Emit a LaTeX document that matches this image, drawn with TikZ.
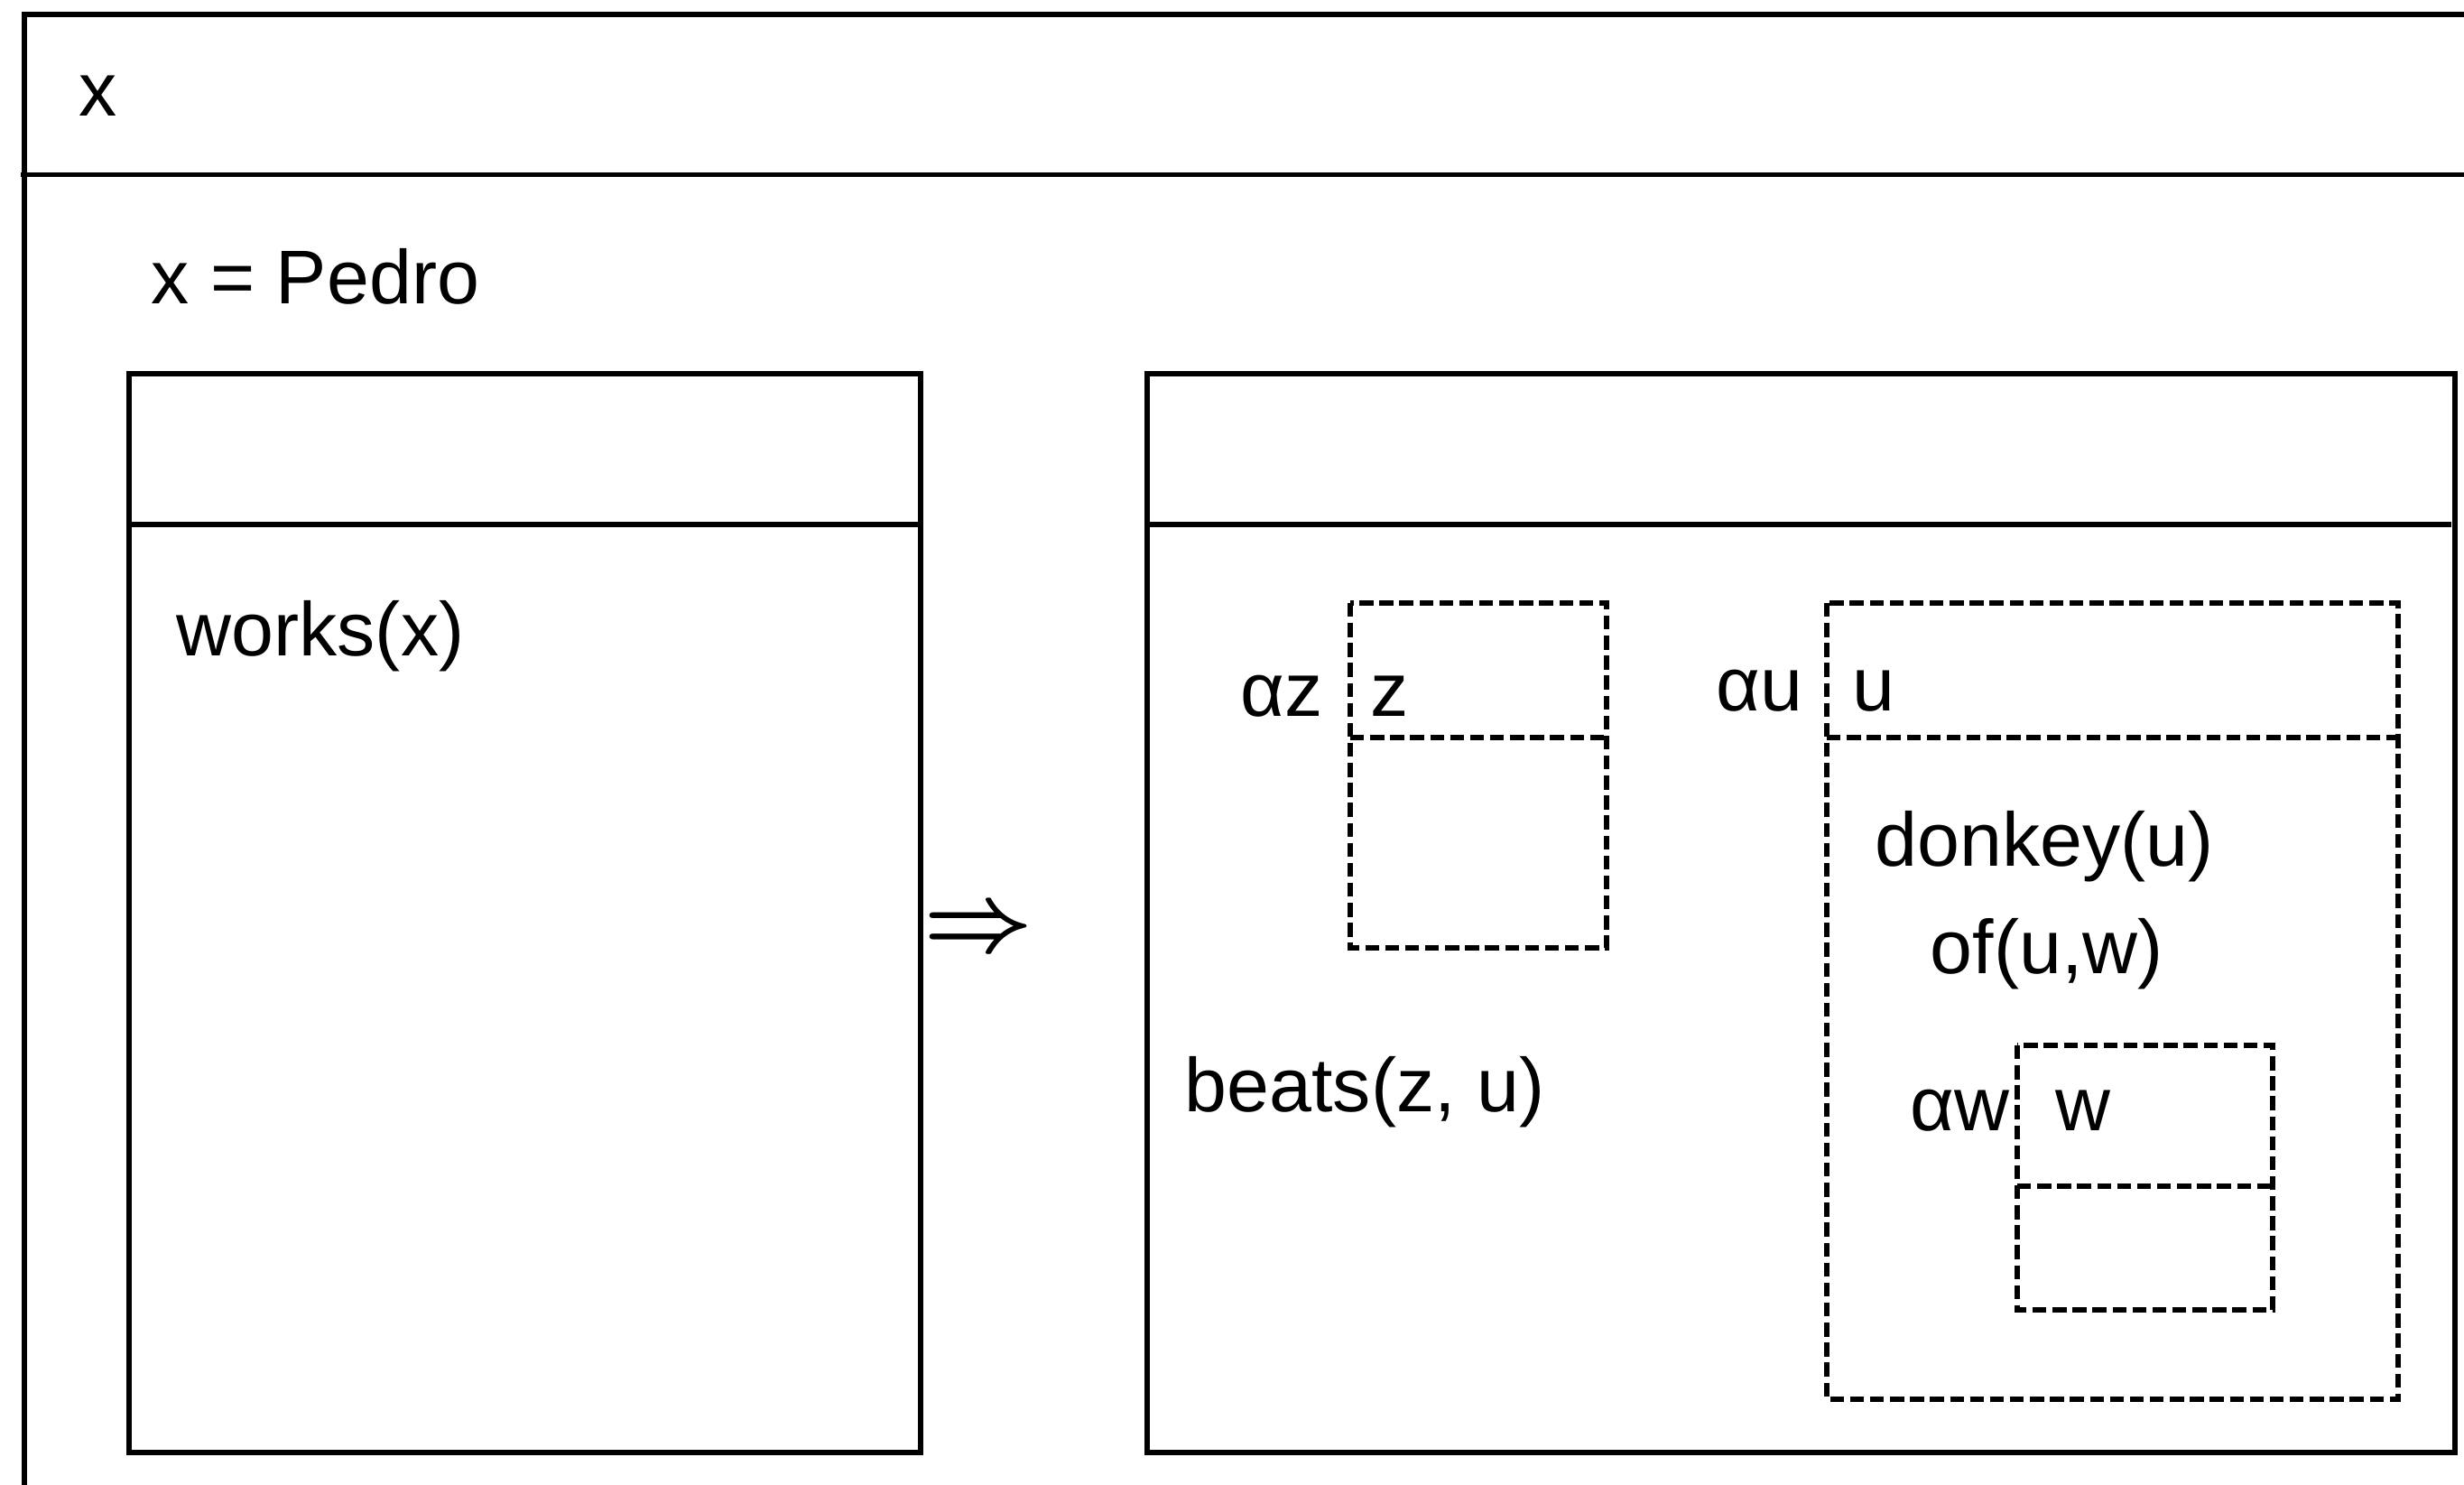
\documentclass[tikz,border=0pt]{standalone}
\usepackage{fontspec}
\setmainfont{Liberation Sans}
\usetikzlibrary{positioning}

\newcommand{\drsfont}{\fontsize{24}{29}\selectfont}

\tikzset{
  drsbox/.style={line width=1.45pt},
  subbox/.style={line width=1.5pt, dash pattern=on 4.4pt off 1.9pt},
  term/.style={anchor=base west, inner sep=0pt, font=\drsfont},
}

\begin{document}
\begin{tikzpicture}[x=1cm, y=-1cm]
\useasboundingbox (0,0) rectangle (27.3,16.44);

% Outer DRS (universe x); its right and bottom sides run off the page
\draw[drsbox] (27.7,0.16) -- (0.27,0.16) -- (0.27,16.8);
\draw[drsbox] (0.23,1.935) -- (27.7,1.935);
\node[term] (univx) at (0.87,1.28) {x};
\node[term] (pedro) at (1.67,3.36) {x = Pedro};

% Antecedent box
\coordinate (antNW) at (1.43,4.14);
\coordinate (antSE) at (10.20,16.09);
\draw[drsbox] (antNW) rectangle (antSE);
\draw[drsbox] (1.43,5.81) -- (10.20,5.81);
\node[term] (works) at (1.95,7.26) {works(x)};

% Implication
\node[anchor=base, inner sep=0pt] (impl) at (10.84,10.52) {\scalebox{3.0}{\boldmath$\Rightarrow$}};

% Consequent box
\coordinate (conNW) at (12.71,4.14);
\coordinate (conSE) at (27.20,16.09);
\draw[drsbox] (conNW) rectangle (conSE);
\draw[drsbox] (12.71,5.81) -- (27.16,5.81);
\node[term] (beats) at (13.12,12.31) {beats(z, u)};

% Sub-DRS for z
\coordinate (zNW) at (14.96,6.68);
\coordinate (zSE) at (17.80,10.50);
\draw[subbox] (zNW) rectangle (zSE);
\draw[subbox] (14.96,8.17) -- (17.80,8.17);
\node[term, anchor=base east] (alphaz) at (14.66,7.93) {αz};
\node[term] (zvar) at (15.18,7.93) {z};

% Sub-DRS for u
\coordinate (uNW) at (20.24,6.68);
\coordinate (uSE) at (26.57,15.50);
\draw[subbox] (uNW) rectangle (uSE);
\draw[subbox] (20.24,8.17) -- (26.57,8.17);
\node[term, anchor=base east] (alphau) at (19.98,7.87) {αu};
\node[term] (uvar) at (20.52,7.87) {u};
\node[term] (donkey) at (20.77,9.59) {donkey(u)};
\node[term] (of) at (21.38,10.78) {of(u,w)};

% Sub-DRS for w, nested in u
\coordinate (wNW) at (22.35,11.58);
\coordinate (wSE) at (25.18,14.51);
\draw[subbox] (wNW) rectangle (wSE);
\draw[subbox] (22.35,13.14) -- (25.18,13.14);
\node[term, anchor=base east] (alphaw) at (22.27,12.52) {αw};
\node[term] (wvar) at (22.77,12.52) {w};

\end{tikzpicture}
\end{document}
